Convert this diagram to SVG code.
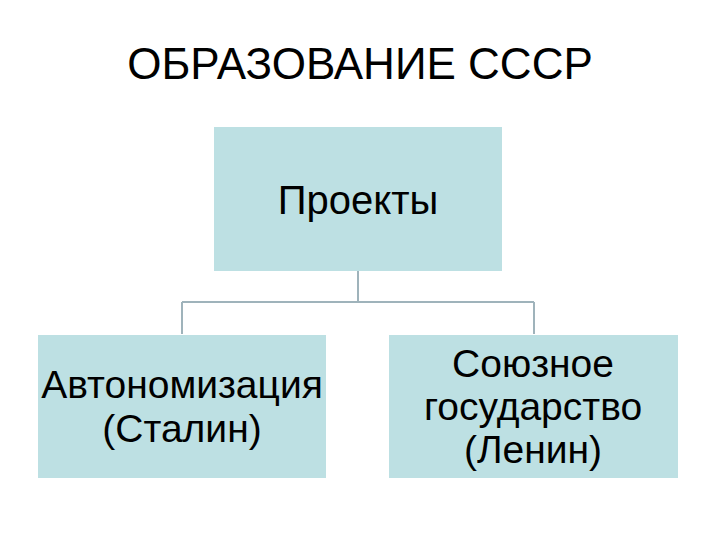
<svg xmlns="http://www.w3.org/2000/svg" width="720" height="540" viewBox="0 0 720 540">
<style>
.box{fill:#bde0e3;}
.t{font-family:"Liberation Sans",Arial,sans-serif;fill:#000;text-anchor:middle;}
.c{stroke:#9fb3bb;stroke-width:2;fill:none;}
</style>
<rect width="720" height="540" fill="#fff"/>
<text class="t" x="360" y="79" font-size="44">ОБРАЗОВАНИЕ СССР</text>
<g id="connectors">
<path class="c" d="M358 271 V302 M182 302 H534 M182 302 V334 M534 302 V334"/>
</g>
<g id="n-projects">
<rect class="box" x="214" y="127" width="288" height="144"/>
<text class="t" x="358" y="214" font-size="40">Проекты</text>
</g>
<g id="n-autonomy">
<rect class="box" x="38" y="335" width="288" height="143"/>
<text class="t" x="182" y="398" font-size="39">Автономизация</text>
<text class="t" x="182" y="442" font-size="39">(Сталин)</text>
</g>
<g id="n-union">
<rect class="box" x="389" y="335" width="289" height="143"/>
<text class="t" x="533" y="377" font-size="39">Союзное</text>
<text class="t" x="533" y="420" font-size="39">государство</text>
<text class="t" x="533" y="463" font-size="39">(Ленин)</text>
</g>
</svg>
